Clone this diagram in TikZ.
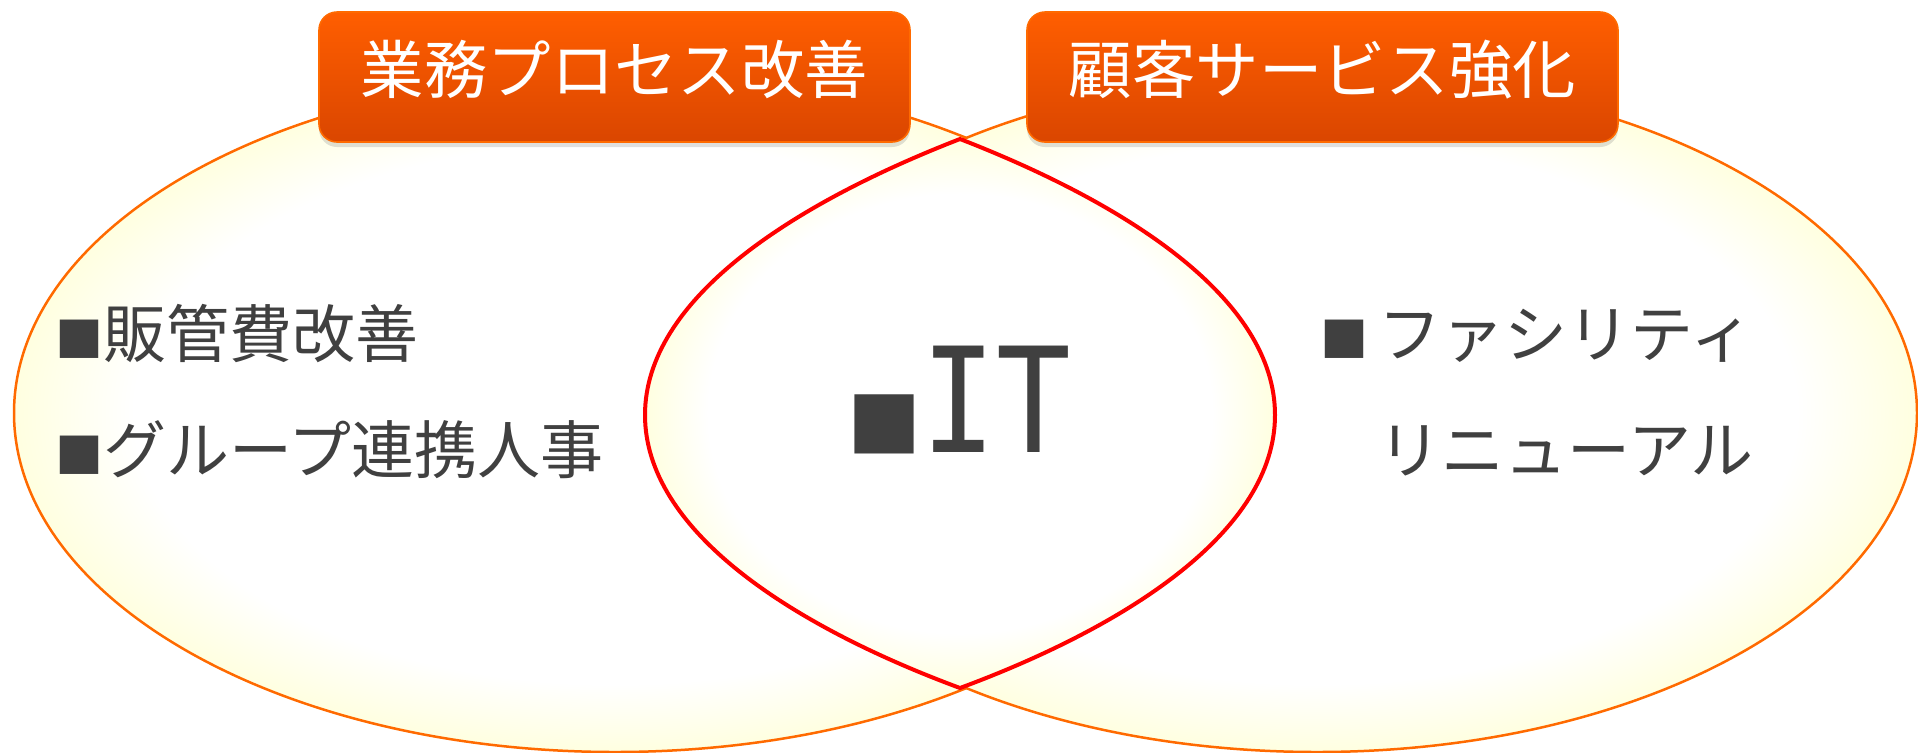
\documentclass[tikz,border=0pt]{standalone}
\usepackage{fontspec}
\setmainfont{Noto Sans CJK JP}
\newfontfamily\itfont{DejaVu Sans Mono}
\usepackage{tikz}
\usetikzlibrary{positioning,shadows}

\definecolor{setorange}{HTML}{FF6A00}
\definecolor{lensred}{HTML}{FF0000}
\definecolor{boxtop}{HTML}{FF5E00}
\definecolor{boxbottom}{HTML}{DA4600}
\definecolor{glowyellow}{HTML}{FFFFE0}
\definecolor{textgray}{HTML}{404040}

\pgfdeclareradialshading{glow}{\pgfpoint{0bp}{0bp}}{%
  color(0bp)=(white); color(20bp)=(white); color(25bp)=(glowyellow); color(50bp)=(glowyellow)}

\newcommand{\bulletsq}[1]{{\fontsize{#1}{#1}\selectfont ■}}

\tikzset{
  every node/.append style={font=\fontsize{31.5}{38}\selectfont, text=textgray},
}
\tikzset{
  setline/.style={draw=setorange, line width=1.25pt, shade, shading=glow},
  lensline/.style={draw=lensred, line width=2pt, shade, shading=glow},
  item/.style={anchor=base west, inner sep=0pt, align=left}
}

\begin{document}
\begin{tikzpicture}[
  x=0.5pt, y=-0.5pt,
  titlebox/.style={
    rectangle,
    draw=setorange,
    line width=0.8pt,
    top color=boxtop,
    bottom color=boxbottom,
    minimum width=295.5pt,
    minimum height=65pt,
    text height=27.9pt,
    text depth=11.8pt,
    rounded corners=9pt,
    inner sep=0pt,
    text=white,
    font=\fontsize{31.7}{38}\selectfont,
    drop shadow={shadow xshift=0pt, shadow yshift=-2.5pt, opacity=0.25}
  }
]
\useasboundingbox (0,0) rectangle (1918,752);

% --- Two sets ---
\path[setline] (615,413) ellipse [x radius=601, y radius=339];
\path[setline] (1317,413) ellipse [x radius=600, y radius=339];

% --- Overlap (lens) ---
\path[lensline] (960,139)
  .. controls (1130,205) and (1275,300) .. (1275,415)
  .. controls (1275,530) and (1130,625) .. (960,688)
  .. controls (790,625) and (645,530) .. (645,415)
  .. controls (645,300) and (790,205) .. (960,139) -- cycle;

% --- Set titles ---
\node[titlebox] (process) at (614.5,77) {業務プロセス改善};
\node[titlebox] (service) at (1322.5,77) {顧客サービス強化};

% --- Left items ---
\node[item] (cost) at (55,357) {\bulletsq{24}販管費改善};
\node[item] (grouphr) at (55,473) {\bulletsq{24}グループ連携人事};

% --- Right items ---
\node[item] (facility) at (1320,357) {\bulletsq{24}\,ファシリティ};
\node[item] (renewal) at (1320,473) {\phantom{\bulletsq{24}\,}リニューアル};

% --- Common part ---
\node[item, font=\fontsize{73}{80}\selectfont] (it) at (847,452)
  {\bulletsq{37}\scalebox{0.85}[1]{\itfont IT}};

\end{tikzpicture}
\end{document}
